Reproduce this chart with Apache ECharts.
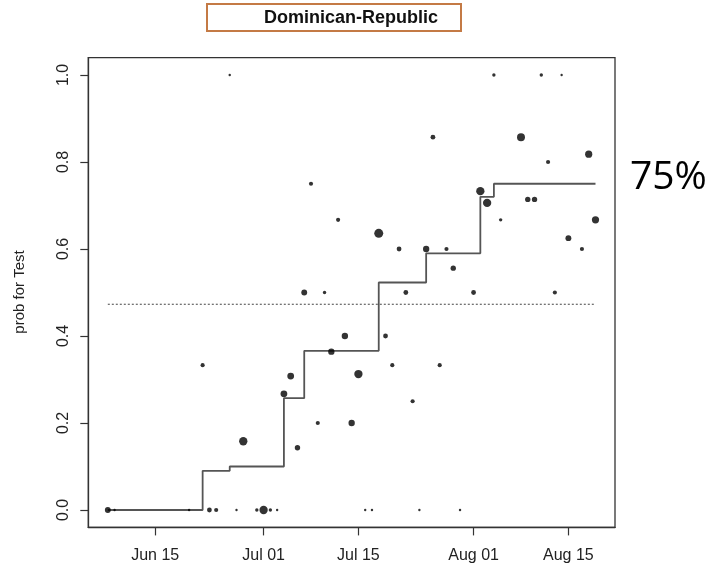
<!DOCTYPE html>
<html>
<head>
<meta charset="utf-8">
<script src="https://cdn.jsdelivr.net/npm/echarts@6/dist/echarts.min.js"></script>
<style>
  html, body { margin: 0; padding: 0; background: #ffffff; }
  #chart { width: 719px; height: 578px; }
</style>
</head>
<body>
<div id="chart"></div>
<script>
// Daily test results: share of positive tests per sampling day, with sample counts
const countryName = 'Dominican-Republic';
const yAxisTitle = 'prob for Test';

const sampleDates = [
  '2020-06-08', '2020-06-09', '2020-06-20', '2020-06-22', '2020-06-23', '2020-06-24',
  '2020-06-26', '2020-06-27', '2020-06-28', '2020-06-30', '2020-07-01', '2020-07-02',
  '2020-07-03', '2020-07-04', '2020-07-05', '2020-07-06', '2020-07-07', '2020-07-08',
  '2020-07-09', '2020-07-10', '2020-07-11', '2020-07-12', '2020-07-13', '2020-07-14',
  '2020-07-15', '2020-07-16', '2020-07-17', '2020-07-18', '2020-07-19', '2020-07-20',
  '2020-07-21', '2020-07-22', '2020-07-23', '2020-07-24', '2020-07-25', '2020-07-26',
  '2020-07-27', '2020-07-28', '2020-07-29', '2020-07-30', '2020-08-01', '2020-08-02',
  '2020-08-03', '2020-08-04', '2020-08-05', '2020-08-08', '2020-08-09', '2020-08-10',
  '2020-08-11', '2020-08-12', '2020-08-13', '2020-08-14', '2020-08-15', '2020-08-17',
  '2020-08-18', '2020-08-19'
];
const positiveRates = [
  0, 0, 0, 0.333, 0, 0,
  1.0, 0, 0.158, 0, 0, 0,
  0, 0.267, 0.308, 0.143, 0.5, 0.75,
  0.2, 0.5, 0.364, 0.667, 0.4, 0.2,
  0.3125, 0, 0, 0.636, 0.4, 0.333,
  0.6, 0.5, 0.25, 0, 0.6, 0.857,
  0.333, 0.6, 0.556, 0, 0.5, 0.733,
  0.706, 1.0, 0.667, 0.857, 0.714, 0.714,
  1.0, 0.8, 0.5, 1.0, 0.625, 0.6,
  0.818, 0.667
];
const sampleCounts = [
  6, 1, 1, 3, 4, 3,
  1, 1, 12, 2, 12, 2,
  1, 8, 8, 5, 6, 3,
  3, 2, 7, 3, 7, 7,
  12, 1, 1, 14, 4, 3,
  4, 4, 3, 1, 7, 4,
  3, 3, 5, 1, 4, 12,
  12, 2, 2, 11, 5, 5,
  2, 3, 3, 1, 6, 3,
  9, 9
];

// Cumulative estimate, changing on the listed dates
const stepDates = [
  '2020-06-08', '2020-06-22', '2020-06-26', '2020-07-04', '2020-07-07',
  '2020-07-18', '2020-07-25', '2020-08-02', '2020-08-04', '2020-08-19'
];
const stepLevels = [0, 0.09, 0.10, 0.257, 0.366, 0.523, 0.59, 0.72, 0.75, 0.75];

// Overall mean level (dotted reference)
const referenceLevel = 0.473;

const xTickDates = ['2020-06-15', '2020-07-01', '2020-07-15', '2020-08-01', '2020-08-15'];
const yTickValues = [0, 0.2, 0.4, 0.6, 0.8, 1.0];
const monthNames = ['Jan', 'Feb', 'Mar', 'Apr', 'May', 'Jun', 'Jul', 'Aug', 'Sep', 'Oct', 'Nov', 'Dec'];

function toMs(s) {
  const p = s.split('-').map(Number);
  return Date.UTC(p[0], p[1] - 1, p[2]);
}

const firstMs = toMs(sampleDates[0]);
const lastMs = toMs(sampleDates[sampleDates.length - 1]);
const xPad = 0.04 * (lastMs - firstMs);
const yLo = Math.min.apply(null, positiveRates);
const yHi = Math.max.apply(null, positiveRates);
const yPad = 0.04 * (yHi - yLo);

const points = sampleDates.map((d, i) => [toMs(d), positiveRates[i], sampleCounts[i]]);
const stepPoints = stepDates.map((d, i) => [toMs(d), stepLevels[i]]);
const refPoints = [[firstMs, referenceLevel], [lastMs, referenceLevel]];
const finalLevel = stepLevels[stepLevels.length - 1];

const chart = echarts.init(document.getElementById('chart'), null, { renderer: 'canvas' });

chart.setOption({
  animation: false,
  backgroundColor: '#ffffff',
  grid: {
    left: 88.3, right: 104, top: 57.6, bottom: 50.6,
    show: true, borderColor: '#333333', borderWidth: 1.3, backgroundColor: 'transparent'
  },
  xAxis: {
    type: 'value',
    min: firstMs - xPad,
    max: lastMs + xPad,
    splitLine: { show: false },
    axisLine: { show: true, onZero: false, lineStyle: { color: '#333333', width: 1.3 } },
    axisTick: {
      show: true, length: 8, inside: false,
      customValues: xTickDates.map(toMs),
      lineStyle: { color: '#333333', width: 1.2 }
    },
    axisLabel: {
      customValues: xTickDates.map(toMs),
      fontFamily: 'Liberation Sans, Arial, sans-serif',
      fontSize: 16, color: '#222222', margin: 20,
      formatter: function (v) {
        const d = new Date(v);
        return monthNames[d.getUTCMonth()] + ' ' + String(d.getUTCDate()).padStart(2, '0');
      }
    }
  },
  yAxis: {
    type: 'value',
    min: yLo - yPad,
    max: yHi + yPad,
    splitLine: { show: false },
    axisLine: { show: true, onZero: false, lineStyle: { color: '#333333', width: 1.3 } },
    axisTick: {
      show: true, length: 8, inside: false,
      customValues: yTickValues,
      lineStyle: { color: '#333333', width: 1.2 }
    },
    axisLabel: {
      customValues: yTickValues,
      rotate: 90,
      fontFamily: 'Liberation Sans, Arial, sans-serif',
      fontSize: 16, color: '#222222', margin: 17,
      formatter: function (v) { return v.toFixed(1); }
    }
  },
  series: [
    {
      type: 'line',
      name: 'reference',
      data: refPoints,
      symbol: 'none',
      silent: true,
      lineStyle: { color: '#444444', width: 1, type: [2, 2] },
      z: 1
    },
    {
      type: 'line',
      name: 'estimate',
      data: stepPoints,
      step: 'end',
      symbol: 'none',
      silent: true,
      lineStyle: { color: '#555555', width: 1.8 },
      z: 2
    },
    {
      type: 'scatter',
      name: 'tests',
      data: points,
      symbol: 'circle',
      symbolSize: function (v) { return 2.4 * Math.sqrt(v[2]); },
      itemStyle: { color: '#000000' },
      z: 3
    }
  ],
  graphic: [
    {
      type: 'rect',
      shape: { x: 207, y: 4, width: 254, height: 27 },
      style: { fill: '#ffffff', stroke: '#c47a45', lineWidth: 2 }
    },
    {
      type: 'text',
      x: 351, y: 18,
      style: {
        text: countryName,
        font: 'bold 18px "Liberation Sans", Arial, sans-serif',
        fill: '#111111', align: 'center', verticalAlign: 'middle'
      }
    },
    {
      type: 'text',
      x: 20, y: 292,
      rotation: Math.PI / 2,
      style: {
        text: yAxisTitle,
        font: '15px "Liberation Sans", Arial, sans-serif',
        fill: '#222222', align: 'center', verticalAlign: 'middle'
      }
    },
    {
      type: 'text',
      x: 630, y: 178,
      style: {
        text: Math.round(finalLevel * 100) + '%',
        font: '39px "Open Sans", sans-serif',
        fill: '#000000', align: 'left', verticalAlign: 'middle'
      }
    }
  ]
});
</script>
</body>
</html>
